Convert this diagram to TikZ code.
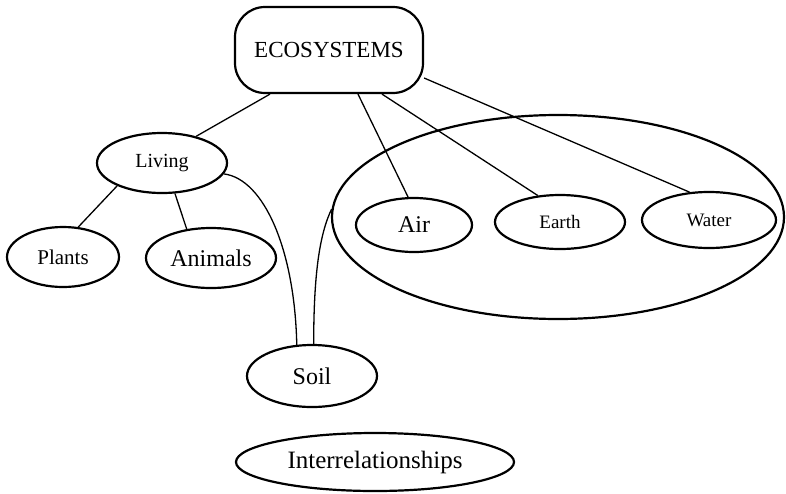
\documentclass[tikz,border=0pt]{standalone}
\usepackage{fontspec}
\setmainfont{Liberation Serif}
\usepackage{tikz}
\usetikzlibrary{shapes.geometric}

\tikzset{
  bubble/.style={draw, ellipse, line width=2.2pt, inner sep=0pt},
  link/.style={line width=1.3pt},
}
\newcommand{\fs}[1]{\fontsize{#1}{#1}\selectfont}

\begin{document}
\begin{tikzpicture}[x=1pt,y=1pt,yscale=-1,xscale=1]
\useasboundingbox (0,0) rectangle (786,493);

%Shape: Ellipse (group)
\node [bubble, minimum width=452pt, minimum height=204pt] (world) at (558,217) {};

%Shape: Rounded Rect
\node [draw, line width=2.2pt, rounded corners=30pt, minimum width=188pt, minimum height=86pt] (eco) at (329,50) {\fs{23}ECOSYSTEMS};

% Text Node
\node [bubble, minimum width=130pt, minimum height=60pt] (living) at (162,163) {\fs{20}Living};
\node [bubble, minimum width=112pt, minimum height=60pt] (plants) at (63,257) {\fs{21}Plants};
\node [bubble, minimum width=130pt, minimum height=60pt] (animals) at (211,258) {\fs{24}Animals};
\node [bubble, minimum width=116pt, minimum height=54pt] (air) at (414,225) {\fs{24}Air};
\node [bubble, minimum width=130pt, minimum height=54pt] (earth) at (560,222) {\fs{19}Earth};
\node [bubble, minimum width=134pt, minimum height=56pt] (water) at (709,220) {\fs{19}Water};
\node [bubble, minimum width=130pt, minimum height=62pt] (soil) at (312,376) {\fs{24}Soil};
\node [bubble, minimum width=278pt, minimum height=58pt] (inter) at (375,462) {\fs{25}Interrelationships};

%Straight Lines
\draw [link] ([xshift=-59pt]eco.south) -- (living.38);
\draw [link] ([xshift=29pt]eco.south) -- (air.102);
\draw [link] ([xshift=53pt]eco.south) -- (earth.130);
\draw [link] ([yshift=28pt]eco.east) -- (water.125);
\draw [link] (living.207) -- (plants.63);
\draw [link] (living.293) -- (animals.130);

%Curve Lines
\draw [link] (living.-10) .. controls +(40,5) and +(-2,-95) .. (soil.116);
\draw [link] (world.178) .. controls +(-12,25) and +(0,-70) .. (soil.87);
\end{tikzpicture}
\end{document}
